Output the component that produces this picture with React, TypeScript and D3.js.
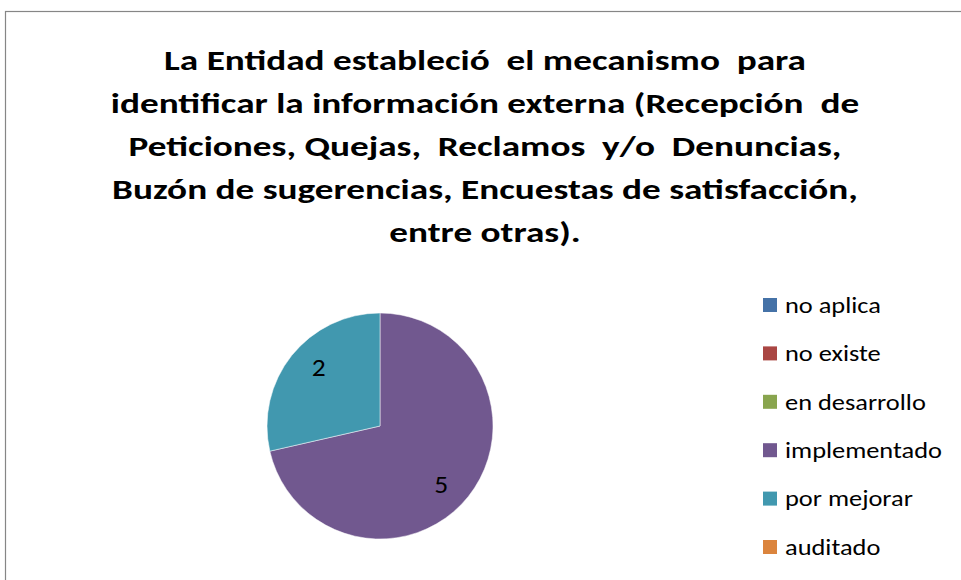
import React, { useEffect, useRef } from "react";
import * as d3 from "d3";

const categories = ["no aplica", "no existe", "en desarrollo", "implementado", "por mejorar", "auditado"];
const counts = [0, 0, 0, 5, 2, 0];
const colors = ["#4572A7", "#AA4643", "#89A54E", "#71588F", "#4198AF", "#DB843D"];
const titleLines = [
  "La Entidad estableció  el mecanismo  para",
  "identificar la información externa (Recepción  de",
  "Peticiones, Quejas,  Reclamos  y/o  Denuncias,",
  "Buzón de sugerencias, Encuestas de satisfacción,",
  "entre otras).",
];

const FONT = "Carlito, Calibri, Lato, 'Open Sans', sans-serif";

export default function App() {
  const ref = useRef<SVGSVGElement>(null);

  useEffect(() => {
    const svg = d3.select(ref.current);
    svg.selectAll("*").remove();

    const width = 961;
    const height = 580;

    svg.append("rect").attr("width", width).attr("height", height).attr("fill", "#fff");

    // chart frame (right and bottom edges are outside the picture)
    svg
      .append("rect")
      .attr("x", 5.5)
      .attr("y", 11.5)
      .attr("width", 970)
      .attr("height", 600)
      .attr("fill", "none")
      .attr("stroke", "#868686")
      .attr("stroke-width", 1.2);

    // title - Calibri is wider than Lato, so stretch horizontally
    svg
      .append("g")
      .selectAll("text")
      .data(titleLines)
      .enter()
      .append("text")
      .attr("transform", (d, i) => "translate(485," + (70 + i * 43) + ") scale(1.33,1)")
      .attr("text-anchor", "middle")
      .style("font-family", FONT)
      .style("font-weight", "bold")
      .style("font-size", "28px")
      .style("white-space", "pre")
      .attr("fill", "#000")
      .text((d) => d);

    // pie
    const cx = 380;
    const cy = 426;
    const r = 113;
    const data = categories.map((c, i) => ({ name: c, value: counts[i], color: colors[i] }));
    const pie = d3
      .pie<{ name: string; value: number; color: string }>()
      .sort(null)
      .value((d) => d.value);
    const arcs = pie(data).filter((a) => a.data.value > 0);
    const arc = d3.arc<d3.PieArcDatum<any>>().innerRadius(0).outerRadius(r);
    const labelArc = d3.arc<d3.PieArcDatum<any>>().innerRadius(r * 0.75).outerRadius(r * 0.75);
    // excel nudges the labels a little clockwise
    const shift = 0.09;

    const g = svg.append("g").attr("transform", "translate(" + cx + "," + cy + ")");
    g.selectAll("path")
      .data(arcs)
      .enter()
      .append("path")
      .attr("d", arc as any)
      .attr("fill", (d) => d.data.color)
      .attr("stroke", "#fff")
      .attr("stroke-width", 0.5);

    g.selectAll("text")
      .data(arcs)
      .enter()
      .append("text")
      .attr(
        "transform",
        (d) =>
          "translate(" +
          labelArc.centroid({ ...d, startAngle: d.startAngle + shift, endAngle: d.endAngle + shift }) +
          ") scale(1.1,1)"
      )
      .attr("text-anchor", "middle")
      .attr("dy", "0.35em")
      .style("font-family", FONT)
      .style("font-size", "25px")
      .attr("fill", "#000")
      .text((d) => d.data.value);

    // legend
    const legendY = d3.scalePoint<string>().domain(categories).range([305, 547]);
    const legend = svg
      .append("g")
      .selectAll("g")
      .data(data)
      .enter()
      .append("g")
      .attr("transform", (d) => "translate(763," + legendY(d.name) + ")");
    legend
      .append("rect")
      .attr("x", 0)
      .attr("y", -7)
      .attr("width", 14)
      .attr("height", 14)
      .attr("fill", (d) => d.color);
    legend
      .append("text")
      .attr("transform", "translate(22,0) scale(1.2,1)")
      .attr("dy", "0.35em")
      .style("font-family", FONT)
      .style("font-size", "22px")
      .attr("fill", "#000")
      .text((d) => d.name);
  }, []);

  return (
    <svg
      ref={ref}
      width={961}
      height={580}
      style={{ position: "absolute", left: 0, top: 0 }}
    />
  );
}
